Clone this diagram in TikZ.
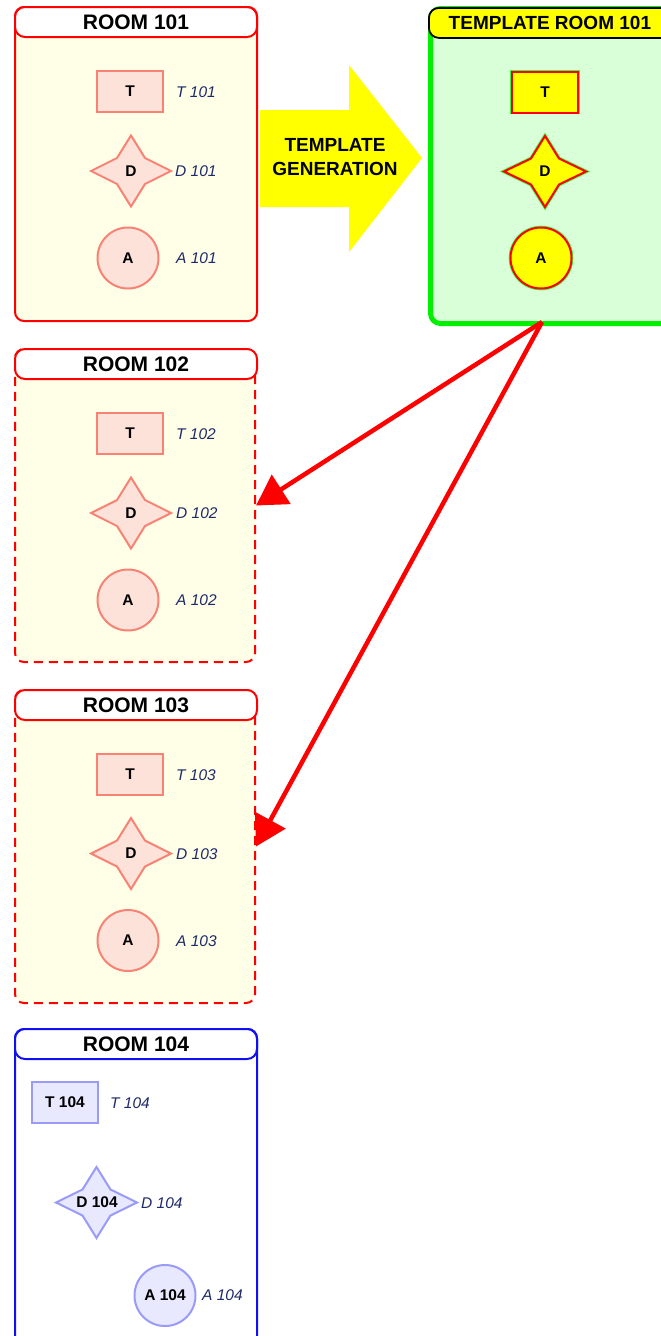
\documentclass[tikz,border=0pt]{standalone}
\usepackage{fontspec}
\setmainfont{Liberation Sans}
\usetikzlibrary{arrows.meta,calc}
\definecolor{roomfill}{HTML}{FFFFE8}
\definecolor{pinkfill}{HTML}{FDE2DA}
\definecolor{pinkdraw}{HTML}{F88274}
\definecolor{tmplfill}{HTML}{D9FFD9}
\definecolor{tgreen}{HTML}{00F000}
\definecolor{tyellow}{HTML}{FFFF00}
\definecolor{bluefill}{HTML}{E8E8FF}
\definecolor{bluedraw}{HTML}{9A9AF8}
\definecolor{roomblue}{HTML}{1010F0}
\definecolor{navy}{HTML}{1E2A6A}
\newcommand\titlefont{\bfseries\fontsize{21}{24}\selectfont}
\newcommand\tmpltitlefont{\bfseries\fontsize{19}{22}\selectfont}
\newcommand\genfont{\bfseries\fontsize{19}{24}\selectfont}
\newcommand\shapefont{\bfseries\fontsize{15.5}{18}\selectfont}
\newcommand\lblfont{\itshape\fontsize{15.5}{18}\selectfont}
\newcommand\fourstar[5]{%
  \path[#5, shift={(#1,#2)}] (0,-#4) -- (14,-13) -- (#3,0) -- (14,13) -- (0,#4) -- (-14,13) -- (-#3,0) -- (-14,-13) -- cycle;}
\tikzset{
  roombox/.style={draw=red, line width=2pt, fill=roomfill, rounded corners=9pt,
    minimum width=242pt, minimum height=314pt, anchor=north west, inner sep=0pt},
  roomdash/.style={roombox, minimum width=240pt, minimum height=313pt, dash pattern=on 9pt off 6pt},
  titlebar/.style={draw=red, line width=2pt, fill=white, rounded corners=10pt,
    minimum width=242pt, minimum height=30pt, anchor=north west, inner sep=0pt, font=\titlefont},
  tshape/.style={rectangle, draw=pinkdraw, fill=pinkfill, line width=2pt,
    minimum width=66pt, minimum height=41pt, inner sep=0pt, font=\shapefont},
  ashape/.style={circle, draw=pinkdraw, fill=pinkfill, line width=2pt,
    minimum size=61pt, inner sep=0pt, font=\shapefont},
  dstar/.style={draw=pinkdraw, fill=pinkfill, line width=2pt, line join=miter},
  glow/.style={preaction={draw=tgreen!75, line width=3.6pt}, fill=tyellow, draw=red, line width=2pt},
  bluestyle/.style={draw=bluedraw, fill=bluefill},
  lbl/.style={anchor=west, font=\lblfont, text=navy, inner sep=0pt},
  shapelbl/.style={font=\shapefont, inner sep=0pt},
  conn/.style={draw=red, line width=4.5pt, -{Triangle[length=30pt,width=34pt]}},
}
\begin{document}
\begin{tikzpicture}[x=1pt,y=-1pt]
\useasboundingbox (0,0) rectangle (661,1336);
\clip (0,0) rectangle (661,1336);
\fill[white] (0,0) rectangle (661,1336);

% ROOM 101
\node[roombox] (r101) at (14,6) {};
\node[titlebar] (r101t) at (14,6) {ROOM 101};
\node[tshape] (t101) at (130,91.5) {T};
\node[lbl] (t101l) at (176,92) {T 101};
\fourstar{131}{171}{40}{35.5}{dstar}
\node[shapelbl] (d101) at (131,171) {D};
\node[lbl] (d101l) at (175,171) {D 101};
\node[ashape] (a101) at (128,258) {A};
\node[lbl] (a101l) at (176,258) {A 101};

% TEMPLATE GENERATION arrow
\fill[tyellow] (260,110) -- (349,110) -- (349,65) -- (422,158) -- (349,252) -- (349,207) -- (260,207) -- cycle;
\node[font=\genfont, align=center, inner sep=0pt] (gen) at (335,157) {TEMPLATE\\GENERATION};

% TEMPLATE ROOM 101
\node[roombox, draw=tgreen, line width=5pt, fill=tmplfill, rounded corners=10pt, minimum height=315pt] (tmpl) at (428,6) {};
\node[titlebar, draw=black, line width=1.8pt, fill=tyellow, font=\tmpltitlefont] (tmplt) at (428,7) {TEMPLATE ROOM 101};
\node[tshape, glow] (tt) at (545,92) {T};
\fourstar{545}{171.5}{41}{35.5}{glow, line join=miter}
\node[shapelbl] (td) at (545,171.5) {D};
\node[ashape, glow] (ta) at (541,258) {A};

% ROOM 102
\node[roomdash] (r102) at (14,348) {};
\node[titlebar] (r102t) at (14,348) {ROOM 102};
\node[tshape] (t102) at (130,433.5) {T};
\node[lbl] (t102l) at (176,434) {T 102};
\fourstar{131}{513}{40}{35.5}{dstar}
\node[shapelbl] (d102) at (131,513) {D};
\node[lbl] (d102l) at (176,513) {D 102};
\node[ashape] (a102) at (128,600) {A};
\node[lbl] (a102l) at (176,600) {A 102};

% ROOM 103
\node[roomdash] (r103) at (14,689) {};
\node[titlebar] (r103t) at (14,689) {ROOM 103};
\node[tshape] (t103) at (130,774.5) {T};
\node[lbl] (t103l) at (176,775) {T 103};
\fourstar{131}{853.5}{40}{35.5}{dstar}
\node[shapelbl] (d103) at (131,853.5) {D};
\node[lbl] (d103l) at (176,854) {D 103};
\node[ashape] (a103) at (128,940.5) {A};
\node[lbl] (a103l) at (176,941) {A 103};

% ROOM 104
\node[roombox, draw=roomblue, fill=white, minimum height=360pt] (r104) at (14,1028) {};
\node[titlebar, draw=roomblue] (r104t) at (14,1028) {ROOM 104};
\node[tshape, bluestyle] (t104) at (65,1102.5) {T 104};
\node[lbl] (t104l) at (110,1103) {T 104};
\fourstar{96.5}{1202.5}{40.5}{35.5}{dstar, bluestyle}
\node[shapelbl] (d104) at (97,1202.5) {D 104};
\node[lbl] (d104l) at (141,1203) {D 104};
\node[ashape, bluestyle] (a104) at (165,1295.5) {A 104};
\node[lbl] (a104l) at (202,1295.5) {A 104};

% connectors
\coordinate (src) at (542,322);
\draw[conn] (src) -- (r102.east);
\draw[conn] (src) -- (r103.east);
\end{tikzpicture}
\end{document}
